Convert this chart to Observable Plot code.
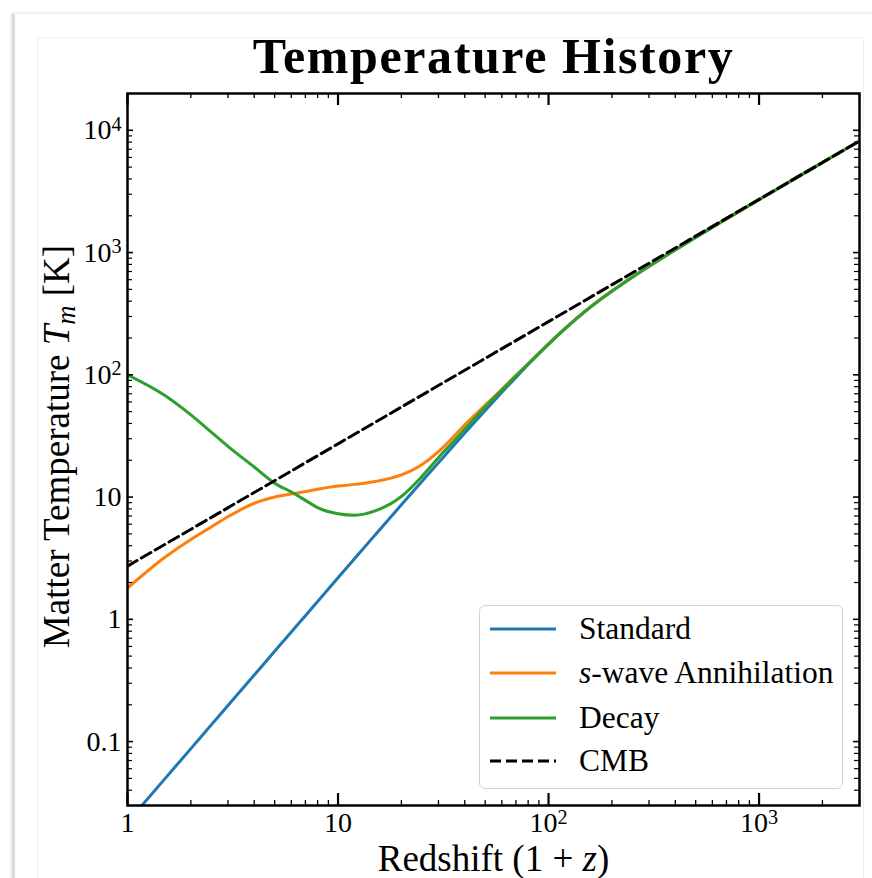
<!DOCTYPE html>
<html>
<head>
<meta charset="utf-8">
<script src="https://cdn.jsdelivr.net/npm/d3@7"></script>
<script src="https://cdn.jsdelivr.net/npm/@observablehq/plot@0.6"></script>
<style>
  html, body { margin: 0; padding: 0; background: #fff; }
  body { width: 872px; height: 878px; position: relative; overflow: hidden; }
  .card {
    position: absolute; left: 12px; top: 13px; width: 900px; height: 900px;
    border-top: 1px solid #ececec; border-left: 3px solid #dadada;
    box-shadow: -1px 0 3px rgba(0,0,0,0.10);
  }
  .panel {
    position: absolute; left: 37px; top: 37px; width: 825px; height: 900px;
    border: 1px solid #f1f1f1;
  }
  #chart { position: absolute; left: 0; top: 0; }
  .legend {
    position: absolute; left: 479px; top: 605px; width: 362px; height: 182px;
    border: 1px solid #d4d4d4; border-radius: 6px; background: rgba(255,255,255,0.85);
    font-family: "Liberation Serif", serif; font-size: 31.5px; color: #000;
  }
  .legend .row { position: absolute; left: 0; height: 40px; display: flex; align-items: center; }
  .legend svg { margin-left: 10px; }
  .legend span { margin-left: 23px; white-space: nowrap; }
</style>
</head>
<body>
<div class="card"></div>
<div class="panel"></div>
<div id="chart"></div>
<div class="legend" id="legend"></div>
<script>
// Redshift grid (1+z) at which the model temperatures are tabulated
const redshift = [1, 1.5, 2, 2.5, 3, 4, 5, 6, 7, 8, 10, 12, 15, 20, 25, 30, 35, 40, 50, 60, 70, 85, 100, 120, 150, 180, 250, 370, 520, 700, 1000, 1500, 2000, 3000];

// Matter temperature T_m [K] for each scenario
const tStandard = [0.0219, 0.0493, 0.0876, 0.137, 0.197, 0.350, 0.548, 0.788, 1.07, 1.40, 2.19, 3.15, 4.90, 8.64, 13.4, 19.1, 25.8, 33.4, 51.1, 71.9, 95.3, 134.7, 178, 239, 332.6, 424, 629, 968, 1389, 1886, 2710, 4080, 5445, 8170];
const tSwave    = [1.8, 3.2, 4.5, 5.7, 6.9, 8.9, 10.0, 10.6, 11.1, 11.6, 12.3, 12.7, 13.4, 15.2, 18.4, 23.5, 30.5, 39, 56.5, 76, 99, 136.5, 179, 240, 333.5, 425, 630, 969, 1390, 1887, 2711, 4080, 5445, 8170];
const tDecay    = [100, 68, 47, 34, 26, 17.6, 13, 11, 9.4, 8.2, 7.3, 7.1, 7.7, 10.1, 14.7, 21, 28, 36, 54.5, 75, 98, 135.5, 178.5, 239.5, 333, 424.5, 629.5, 968.5, 1389, 1886, 2710, 4080, 5445, 8170];

// CMB temperature, T = 2.725 (1+z) K
const cmbRedshift = [1, 10, 100, 1000, 3000];
const tCMB = [2.725, 27.25, 272.5, 2725, 8175];

const seriesNames = ["Standard", "s-wave Annihilation", "Decay", "CMB"];
const seriesColors = ["#1f77b4", "#ff7f0e", "#2ca02c", "#000000"];

// Axis ticks
const xTickValues = [1, 10, 100, 1000];
const yTickValues = [0.1, 1, 10, 100, 1000, 10000];
const xMinorTicks = [2, 3, 4, 5, 6, 7, 8, 9, 20, 30, 40, 50, 60, 70, 80, 90, 200, 300, 400, 500, 600, 700, 800, 900, 2000, 3000];
const yMinorTicks = [0.04, 0.05, 0.06, 0.07, 0.08, 0.09, 0.2, 0.3, 0.4, 0.5, 0.6, 0.7, 0.8, 0.9, 2, 3, 4, 5, 6, 7, 8, 9, 20, 30, 40, 50, 60, 70, 80, 90, 200, 300, 400, 500, 600, 700, 800, 900, 2000, 3000, 4000, 5000, 6000, 7000, 8000, 9000];

const rowsOf = (ys) => redshift.map((z, i) => ({z, T: ys[i]}));
const cmbRows = cmbRedshift.map((z, i) => ({z, T: tCMB[i]}));

const W = 872, H = 878;
const M = {top: 93, right: 13, bottom: 73, left: 127};
const innerW = W - M.left - M.right;
const innerH = H - M.top - M.bottom;

const powerFormat = d => d >= 100 ? "10^" + Math.round(Math.log10(d)) : String(d);

const lineOpts = (color) => ({x: "z", y: "T", stroke: color, strokeWidth: 3, curve: "monotone-x", clip: true});

const chart = Plot.plot({
  width: W,
  height: H,
  marginTop: M.top,
  marginRight: M.right,
  marginBottom: M.bottom,
  marginLeft: M.left,
  style: {fontFamily: "'Liberation Serif', serif", fontSize: "28px", background: "transparent", color: "black", overflow: "visible"},
  x: {type: "log", domain: [1, 3000], ticks: xTickValues, tickFormat: powerFormat, tickSize: 0, tickPadding: 7, label: null},
  y: {type: "log", domain: [0.03, 20000], ticks: yTickValues, tickFormat: powerFormat, tickSize: 0, tickPadding: 6, label: null},
  marks: [
    Plot.line(rowsOf(tStandard), lineOpts(seriesColors[0])),
    Plot.line(rowsOf(tSwave), lineOpts(seriesColors[1])),
    Plot.line(rowsOf(tDecay), lineOpts(seriesColors[2])),
    Plot.line(cmbRows, {x: "z", y: "T", stroke: seriesColors[3], strokeWidth: 3, strokeDasharray: "11,5", clip: true}),
    // inward ticks on all four sides
    Plot.tickX(xTickValues, {x: d => d, insetTop: innerH - 12, strokeWidth: 2.2}),
    Plot.tickX(xTickValues, {x: d => d, insetBottom: innerH - 12, strokeWidth: 2.2}),
    Plot.tickX(xMinorTicks, {x: d => d, insetTop: innerH - 5, strokeWidth: 1.3}),
    Plot.tickX(xMinorTicks, {x: d => d, insetBottom: innerH - 5, strokeWidth: 1.3}),
    Plot.tickY(yTickValues, {y: d => d, insetRight: innerW - 6, strokeWidth: 1.6}),
    Plot.tickY(yTickValues, {y: d => d, insetLeft: innerW - 6, strokeWidth: 1.6}),
    Plot.tickY(yMinorTicks, {y: d => d, insetRight: innerW - 5, strokeWidth: 1.2}),
    Plot.tickY(yMinorTicks, {y: d => d, insetLeft: innerW - 5, strokeWidth: 1.2}),
    Plot.frame({stroke: "black", strokeWidth: 2.5}),
    // title and axis labels
    Plot.text(["Temperature History"], {frameAnchor: "top", lineAnchor: "middle", dy: -37, fontSize: 50, fontWeight: "bold"}),
    Plot.text(["Redshift (1 + z)"], {frameAnchor: "bottom", lineAnchor: "middle", dy: 54, fontSize: 37}),
    Plot.text(["Matter Temperature T_m [K]"], {frameAnchor: "left", textAnchor: "middle", lineAnchor: "middle", rotate: -90, dx: -70, dy: -3, fontSize: 37})
  ]
});

// Typeset powers of ten, math italics and subscripts
const NS = "http://www.w3.org/2000/svg";
const tspan = (text, attrs = {}) => {
  const t = document.createElementNS(NS, "tspan");
  for (const [k, v] of Object.entries(attrs)) t.setAttribute(k, v);
  t.textContent = text;
  return t;
};
chart.querySelectorAll("text").forEach(t => {
  const s = t.textContent;
  const m = s.match(/^10\^(\d)$/);
  if (m) {
    t.textContent = "";
    t.appendChild(tspan("10"));
    t.appendChild(tspan(m[1], {dy: "-0.42em", "font-size": "0.72em"}));
  } else if (s === "Temperature History") {
    t.setAttribute("letter-spacing", "1.6px");
  } else if (s === "Redshift (1 + z)") {
    t.textContent = "";
    t.appendChild(tspan("Redshift (1 + "));
    t.appendChild(tspan("z", {"font-style": "italic"}));
    t.appendChild(tspan(")"));
  } else if (s === "Matter Temperature T_m [K]") {
    t.textContent = "";
    t.appendChild(tspan("Matter Temperature "));
    t.appendChild(tspan("T", {"font-style": "italic"}));
    t.appendChild(tspan("m", {"font-style": "italic", "font-size": "0.72em", dy: "0.22em"}));
    t.appendChild(tspan(" [K]", {dy: "-0.16em"}));
  }
});
document.getElementById("chart").appendChild(chart);

// Legend
const legend = document.getElementById("legend");
const rowTops = [3, 47, 92, 135];
seriesNames.forEach((name, i) => {
  const row = document.createElement("div");
  row.className = "row";
  row.style.top = rowTops[i] + "px";
  const dash = i === 3 ? ' stroke-dasharray="11,5"' : "";
  const label = name.startsWith("s-") ? "<i>s</i>" + name.slice(1) : name;
  row.innerHTML = `<svg width="66" height="10"><line x1="0" x2="66" y1="5" y2="5" stroke="${seriesColors[i]}" stroke-width="3"${dash}/></svg><span>${label}</span>`;
  legend.appendChild(row);
});
</script>
</body>
</html>
